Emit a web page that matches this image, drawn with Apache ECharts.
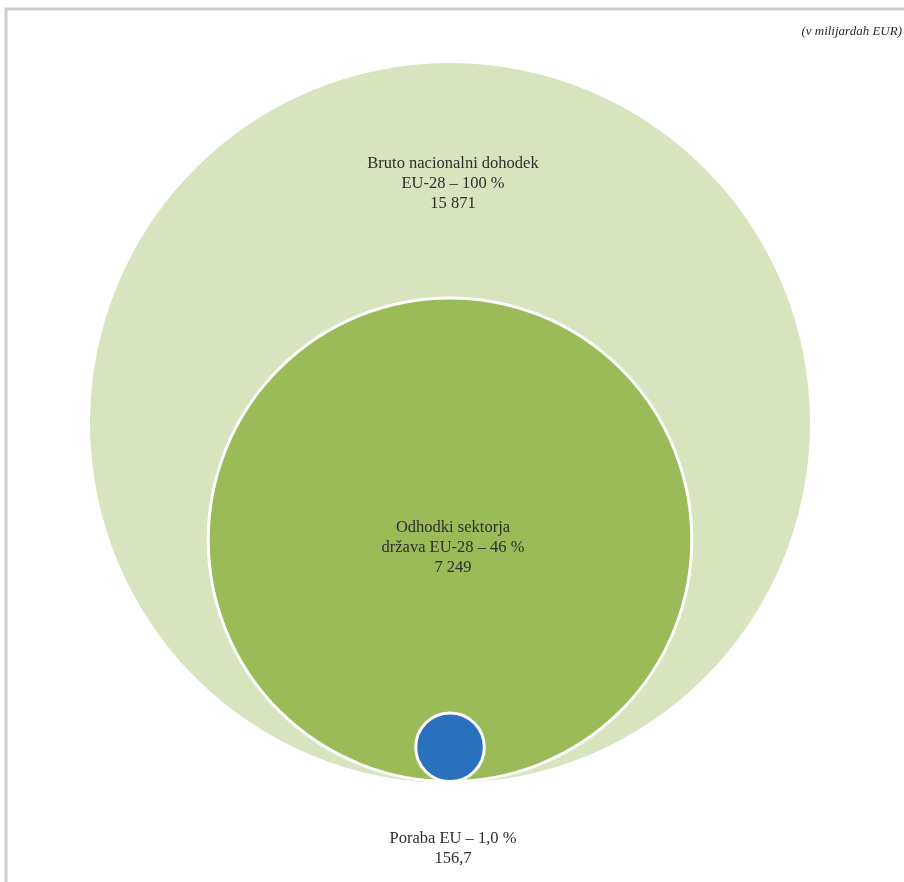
<!DOCTYPE html>
<html>
<head>
<meta charset="utf-8">
<script src="https://cdn.jsdelivr.net/npm/echarts@6/dist/echarts.min.js"></script>
<style>
  html, body { margin: 0; padding: 0; background: #ffffff; }
  #chart { width: 904px; height: 882px; }
</style>
</head>
<body>
<div id="chart"></div>
<script>
// ---- data ----
var categories = ['Bruto nacionalni dohodek\nEU-28', 'Odhodki sektorja\ndržava EU-28', 'Poraba EU'];
var values = [15871, 7249, 156.7];
var shares = ['100', '46', '1,0'];
var unitLabel = '(v milijardah EUR)';

var colors = ['#d7e4bd', '#9bbb59', '#2a70bd'];

function fmt(v) {
  var parts = String(v).split('.');
  var intPart = parts[0].replace(/\B(?=(\d{3})+(?!\d))/g, ' ');
  return parts.length > 1 ? intPart + ',' + parts[1] : intPart;
}

var maxR = Math.sqrt(Math.max.apply(null, values));
var seriesData = values.map(function (v, i) { return [0, Math.sqrt(v), i]; });

var chart = echarts.init(document.getElementById('chart'), null, { renderer: 'canvas' });

var serif = '"Liberation Serif", "DejaVu Serif", serif';

chart.setOption({
  backgroundColor: '#ffffff',
  animation: false,
  grid: { left: 90, width: 720, top: 63, height: 720 },
  xAxis: { type: 'value', min: -maxR, max: maxR, show: false },
  yAxis: { type: 'value', min: 0, max: 2 * maxR, show: false },
  graphic: [
    {
      type: 'rect', silent: true, z: -10,
      shape: { x: 6, y: 9, width: 1000, height: 1000 },
      style: { fill: 'none', stroke: '#cdcdcd', lineWidth: 3 }
    },
    {
      type: 'text', right: 2, top: 25,
      style: { text: unitLabel, font: 'italic 13px ' + serif, fill: '#2b2b2b' }
    }
  ],
  series: [{
    type: 'custom',
    coordinateSystem: 'cartesian2d',
    data: seriesData,
    renderItem: function (params, api) {
      var i = api.value(2);
      var rr = api.value(1);
      var c = api.coord([0, rr]);
      var r = api.size([0, rr])[1];
      var lines = categories[i] + ' – ' + shares[i] + ' %\n' + fmt(values[i]);
      var ty;
      if (i === 0) ty = c[1] - r * 0.665;
      else if (i === 1) ty = c[1] + 8;
      else ty = c[1] + r + 66;
      var children = [{
        type: 'circle',
        shape: { cx: c[0], cy: c[1], r: r - (i === 0 ? 0 : 1.5) },
        style: {
          fill: colors[i],
          stroke: i === 0 ? null : '#ffffff',
          lineWidth: i === 0 ? 0 : 3
        }
      }, {
        type: 'text',
        z2: 10,
        style: {
          text: lines,
          x: c[0] + 3,
          y: ty,
          align: 'center',
          verticalAlign: 'middle',
          font: '16.5px ' + serif,
          lineHeight: 20,
          fill: '#2e2e2e'
        }
      }];
      return { type: 'group', children: children };
    }
  }]
});
</script>
</body>
</html>
